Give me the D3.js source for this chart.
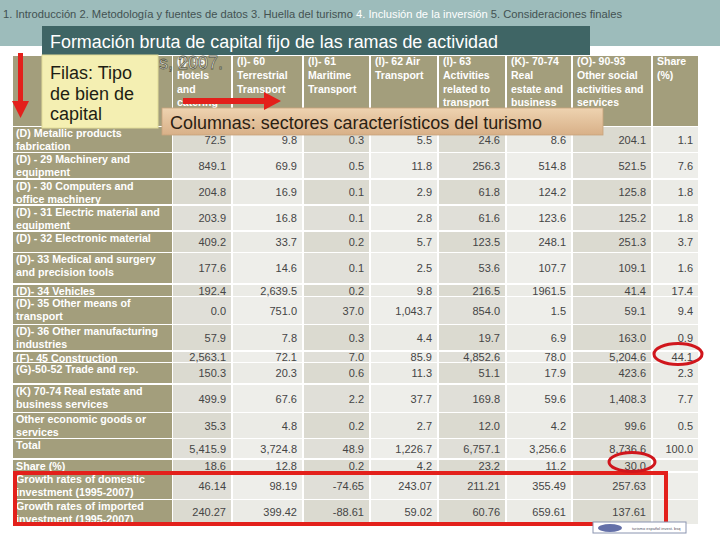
<!DOCTYPE html>
<html>
<head>
<meta charset="utf-8">
<script src="https://cdn.jsdelivr.net/npm/d3@7"></script>
<style>
  body { margin: 0; background: #fff; }
  svg { display: block; font-family: "Liberation Sans", Arial, sans-serif; }
</style>
</head>
<body>
<script>
// ---- data ----
var navItems = ["1. Introducción", "2. Metodología y fuentes de datos", "3. Huella del turismo", "4. Inclusión de la inversión", "5. Consideraciones finales"];
var activeNav = 3;

var titleText = "Formación bruta de capital fijo de las ramas de actividad";
var subtitleText = "s, 2007.";
var rowsNote = ["Filas: Tipo", "de bien de", "capital"];
var colsNote = "Columnas: sectores característicos del turismo";

var columnHeads = [
    ["(I)- 55", "Hotels", "and", "catering"],
    ["(I)- 60", "Terrestrial", "Transport"],
    ["(I)- 61", "Maritime", "Transport"],
    ["(I)- 62 Air", "Transport"],
    ["(I)- 63", "Activities", "related to", "transport"],
    ["(K)- 70-74", "Real", "estate and", "business"],
    ["(O)- 90-93", "Other social", "activities and", "services"],
    ["Share", "(%)"]
];

var rowLabels = [
    ["(D) Metallic products", "fabrication"],
    ["(D) - 29 Machinery and", "equipment"],
    ["(D) - 30 Computers and", "office machinery"],
    ["(D) - 31 Electric material and", "equipment"],
    ["(D) - 32 Electronic material"],
    ["(D)- 33 Medical and surgery", "and precision tools"],
    ["(D)- 34 Vehicles"],
    ["(D)- 35 Other means of", "transport"],
    ["(D)- 36 Other manufacturing", "industries"],
    ["(F)- 45 Construction"],
    ["(G)-50-52 Trade and rep."],
    ["(K) 70-74 Real estate and", "business services"],
    ["Other economic goods or", "services"],
    ["Total"],
    ["Share (%)"],
    ["Growth rates of domestic", "investment (1995-2007)"],
    ["Growth rates of imported", "investment (1995-2007)"]
];

// one array per table row, as printed (empty string = blank cell)
var metallic     = ["72.5", "9.8", "0.3", "5.5", "24.6", "8.6", "204.1", "1.1"];
var machinery    = ["849.1", "69.9", "0.5", "11.8", "256.3", "514.8", "521.5", "7.6"];
var computers    = ["204.8", "16.9", "0.1", "2.9", "61.8", "124.2", "125.8", "1.8"];
var electric     = ["203.9", "16.8", "0.1", "2.8", "61.6", "123.6", "125.2", "1.8"];
var electronic   = ["409.2", "33.7", "0.2", "5.7", "123.5", "248.1", "251.3", "3.7"];
var medical      = ["177.6", "14.6", "0.1", "2.5", "53.6", "107.7", "109.1", "1.6"];
var vehicles     = ["192.4", "2,639.5", "0.2", "9.8", "216.5", "1961.5", "41.4", "17.4"];
var otherMeans   = ["0.0", "751.0", "37.0", "1,043.7", "854.0", "1.5", "59.1", "9.4"];
var otherManuf   = ["57.9", "7.8", "0.3", "4.4", "19.7", "6.9", "163.0", "0.9"];
var construction = ["2,563.1", "72.1", "7.0", "85.9", "4,852.6", "78.0", "5,204.6", "44.1"];
var trade        = ["150.3", "20.3", "0.6", "11.3", "51.1", "17.9", "423.6", "2.3"];
var realEstate   = ["499.9", "67.6", "2.2", "37.7", "169.8", "59.6", "1,408.3", "7.7"];
var otherEcon    = ["35.3", "4.8", "0.2", "2.7", "12.0", "4.2", "99.6", "0.5"];
var total        = ["5,415.9", "3,724.8", "48.9", "1,226.7", "6,757.1", "3,256.6", "8,736.6", "100.0"];
var share        = ["18.6", "12.8", "0.2", "4.2", "23.2", "11.2", "30.0", ""];
var growthDom    = ["46.14", "98.19", "-74.65", "243.07", "211.21", "355.49", "257.63", ""];
var growthImp    = ["240.27", "399.42", "-88.61", "59.02", "60.76", "659.61", "137.61", ""];

var tableRows = [metallic, machinery, computers, electric, electronic, medical, vehicles,
    otherMeans, otherManuf, construction, trade, realEstate, otherEcon, total, share, growthDom, growthImp];

// ---- layout ----
var w = 720, h = 540;
var colEdges = [13, 173, 233, 304, 371, 439, 507, 573, 653, 700];   // label col + 8 value cols
var rowEdges = [[127, 152], [153, 178], [180, 204], [206, 230], [232, 252], [253, 283], [285, 296],
    [297, 324], [325, 350], [352, 362], [363, 383], [385, 412], [413, 438], [439, 458], [460, 471], [473, 499], [500, 524]];
var headTop = 56, headBottom = 126;

var colIdx = d3.range(columnHeads.length);
var xLeft = d3.scaleOrdinal(colIdx, colEdges.slice(1, -1));
var xRight = d3.scaleOrdinal(colIdx, colEdges.slice(2).map(function (e) { return e - 2; }));
var rowIdx = d3.range(tableRows.length);
var yTop = d3.scaleOrdinal(rowIdx, rowEdges.map(function (r) { return r[0]; }));
var yBot = d3.scaleOrdinal(rowIdx, rowEdges.map(function (r) { return r[1]; }));

var olive = "#a39e7c";
var darkCell = ["#dbdad0", "#e0dfd8"];
var lightCell = ["#ebebe6", "#eeeeea"];

var svg = d3.select("body").append("svg")
    .attr("width", w)
    .attr("height", h);

var defs = svg.append("defs");
var tan = defs.append("linearGradient").attr("id", "tan").attr("x1", 0).attr("y1", 0).attr("x2", 0).attr("y2", 1);
tan.append("stop").attr("offset", "0%").attr("stop-color", "#eed3b0");
tan.append("stop").attr("offset", "100%").attr("stop-color", "#d8b088");

svg.append("rect").attr("width", w).attr("height", h).attr("fill", "#fff");

// top band + navigation
svg.append("rect").attr("width", w).attr("height", 46).attr("fill", "#9dbcbb");

var nav = svg.append("text")
    .attr("x", 3).attr("y", 18)
    .attr("font-size", 10.6)
    .attr("textLength", 619)
    .attr("lengthAdjust", "spacingAndGlyphs");
navItems.forEach(function (t, i) {
    nav.append("tspan")
        .attr("fill", i === activeNav ? "#ffffff" : "#435252")
        .text(t + (i < navItems.length - 1 ? (i === activeNav ? " " : "  ") : ""));
});

// header row
svg.append("rect").attr("x", colEdges[0]).attr("y", headTop)
    .attr("width", colEdges[1] - colEdges[0] - 1).attr("height", headBottom - headTop).attr("fill", olive);

var heads = svg.selectAll("g.head")
    .data(columnHeads).enter()
    .append("g").attr("class", "head");
heads.append("rect")
    .attr("x", function (d, i) { return xLeft(i); })
    .attr("y", headTop)
    .attr("width", function (d, i) { return xRight(i) - xLeft(i); })
    .attr("height", headBottom - headTop)
    .attr("fill", olive);
heads.each(function (d, i) {
    var g = d3.select(this);
    d.forEach(function (line, k) {
        g.append("text")
            .attr("x", xLeft(i) + 4)
            .attr("y", headTop + 9 + k * 13.8)
            .attr("fill", "#fff")
            .attr("font-weight", "bold")
            .attr("font-size", 10.5)
            .text(line);
    });
});

// body rows
var rows = svg.selectAll("g.row")
    .data(tableRows).enter()
    .append("g").attr("class", "row");

rows.append("rect")
    .attr("x", colEdges[0])
    .attr("y", function (d, i) { return yTop(i); })
    .attr("width", colEdges[1] - colEdges[0] - 1)
    .attr("height", function (d, i) { return yBot(i) - yTop(i); })
    .attr("fill", olive);

rows.each(function (d, i) {
    var g = d3.select(this);
    rowLabels[i].forEach(function (line, k) {
        g.append("text")
            .attr("x", colEdges[0] + 3)
            .attr("y", yTop(i) + 10 + k * 13)
            .attr("fill", "#fff")
            .attr("font-weight", "bold")
            .attr("font-size", 10.7)
            .text(line);
    });
    var cells = g.selectAll("g.cell")
        .data(d).enter()
        .append("g").attr("class", "cell");
    cells.append("rect")
        .attr("x", function (v, j) { return xLeft(j); })
        .attr("y", yTop(i))
        .attr("width", function (v, j) { return xRight(j) - xLeft(j); })
        .attr("height", yBot(i) - yTop(i))
        .attr("fill", function (v, j) { return (j % 2 === 0 ? darkCell : lightCell)[i % 2]; });
    cells.append("text")
        .attr("x", function (v, j) { return xRight(j) - 5; })
        .attr("y", (yTop(i) + yBot(i)) / 2 + 4)
        .attr("text-anchor", "end")
        .attr("font-size", 11)
        .attr("fill", "#454545")
        .text(function (v) { return v; });
});

// overlays from the slide (the subtitle tail sits over the first header, as on the slide)
svg.append("text")
    .attr("x", 223).attr("y", 69)
    .attr("text-anchor", "end")
    .attr("font-size", 18)
    .attr("fill", "#fff")
    .attr("stroke", "#5e5e4a").attr("stroke-width", 0.8)
    .text(subtitleText);

svg.append("rect").attr("x", 42).attr("y", 26).attr("width", 548).attr("height", 29).attr("fill", "#3f6565");
svg.append("text")
    .attr("x", 50).attr("y", 48)
    .attr("font-size", 18)
    .attr("textLength", 448)
    .attr("lengthAdjust", "spacingAndGlyphs")
    .attr("fill", "#fff")
    .text(titleText);

svg.append("rect").attr("x", 42).attr("y", 55).attr("width", 116).attr("height", 73)
    .attr("fill", "#f4efb2").attr("stroke", "#e2dc98").attr("stroke-width", 1);
rowsNote.forEach(function (t, k) {
    svg.append("text")
        .attr("x", 50).attr("y", 79 + k * 20.5)
        .attr("font-size", 18)
        .attr("fill", "#1e1e14")
        .text(t);
});

svg.append("rect").attr("x", 162).attr("y", 108).attr("width", 441).attr("height", 27)
    .attr("fill", "url(#tan)").attr("stroke", "#c9a47c").attr("stroke-width", 0.8);
svg.append("text")
    .attr("x", 170).attr("y", 129)
    .attr("font-size", 17.5)
    .attr("textLength", 372)
    .attr("lengthAdjust", "spacingAndGlyphs")
    .attr("fill", "#2a2012")
    .text(colsNote);

// red arrows
var red = "#e3201b";
svg.append("rect").attr("x", 18).attr("y", 53).attr("width", 5).attr("height", 50).attr("fill", red);
svg.append("path").attr("d", "M12,101 L29,101 L20.5,118 Z").attr("fill", red);
svg.append("rect").attr("x", 183).attr("y", 98).attr("width", 82).attr("height", 6).attr("fill", red);
svg.append("path").attr("d", "M264,92 L281,101 L264,110 Z").attr("fill", red);

// highlight boxes
svg.append("rect").attr("x", 15).attr("y", 473).attr("width", 651).attr("height", 51)
    .attr("fill", "none").attr("stroke", red).attr("stroke-width", 4);
svg.append("ellipse").attr("cx", 678).attr("cy", 354).attr("rx", 24).attr("ry", 10.5)
    .attr("fill", "none").attr("stroke", "#d0161c").attr("stroke-width", 3);
svg.append("ellipse").attr("cx", 632).attr("cy", 462).attr("rx", 23).attr("ry", 9.5)
    .attr("fill", "none").attr("stroke", "#d0161c").attr("stroke-width", 3);

// small logo at bottom
svg.append("rect").attr("x", 593).attr("y", 522).attr("width", 93).attr("height", 11)
    .attr("fill", "#fff").attr("stroke", "#8a94b0").attr("stroke-width", 1);
svg.append("ellipse").attr("cx", 610).attr("cy", 528).attr("rx", 12).attr("ry", 4).attr("fill", "#6470a8");
svg.append("text").attr("x", 632).attr("y", 530).attr("font-size", 4).attr("fill", "#556").text("turismo español invest. bsq");
</script>
</body>
</html>
